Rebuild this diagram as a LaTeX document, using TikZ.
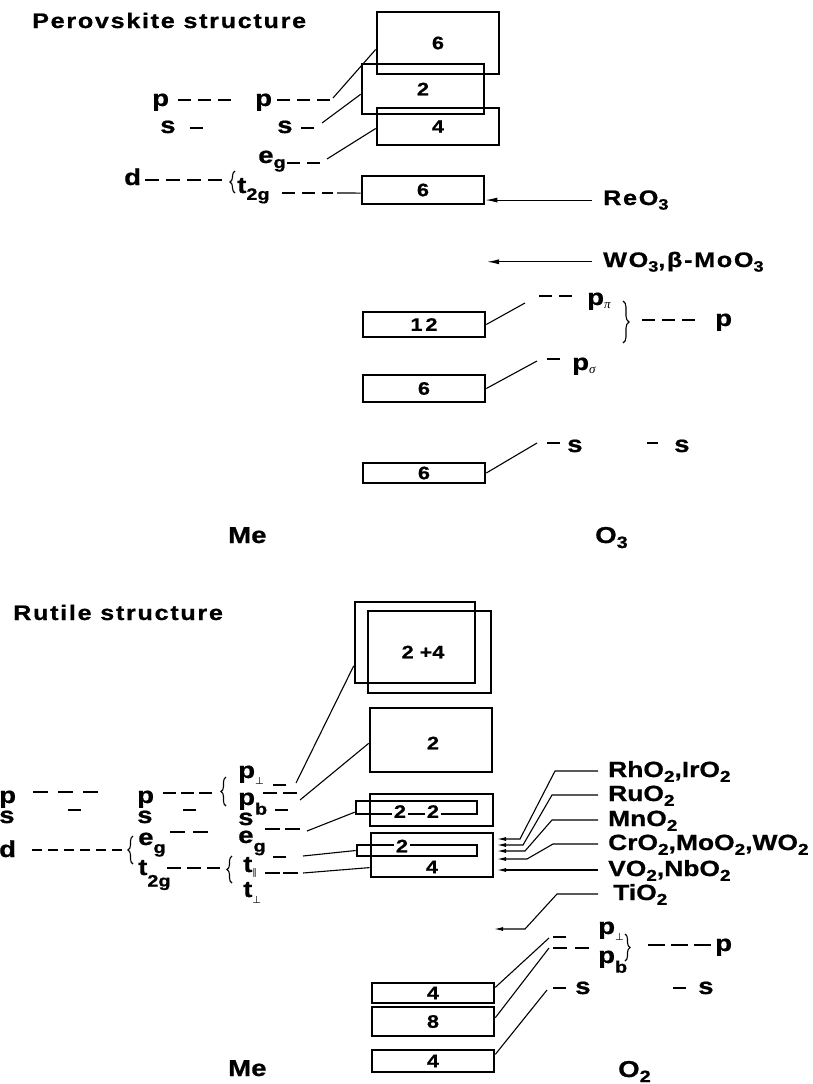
\documentclass[tikz,border=0pt]{standalone}
\usepackage{fontspec}
\usepackage{graphicx}
\setmainfont{Liberation Sans}[FakeStretch=1.2, BoldFeatures={FakeBold=0.8}]
\newfontfamily\grk{Liberation Serif}
\newfontfamily\dvs{DejaVu Sans}
\usetikzlibrary{arrows.meta,calc,decorations.pathreplacing}
\newcommand\dn[2][0.22em]{\raisebox{-#1}{\scalebox{0.72}{#2}}}
\newcommand\fs[1]{\fontsize{#1}{#1}\selectfont\bfseries}
\newcommand\perpsub{\raisebox{-6pt}{\fontsize{10}{10}\selectfont\dvs\mdseries ⊥}}
\newcommand\parsub{\raisebox{-3pt}{\fontsize{9}{9}\selectfont\dvs\mdseries ∥}}
\newcommand\grsub[1]{\raisebox{-3pt}{\fontsize{13}{13}\selectfont\grk\mdseries\itshape #1}}
\tikzset{
  txt/.style={anchor=base west, inner sep=0pt, font=\fs{23}},
  ttl/.style={anchor=base west, inner sep=0pt, font=\fs{21}\addfontfeatures{LetterSpace=8}},
  cmpd/.style={anchor=west, inner xsep=10pt, inner ysep=0pt, text height=16pt, text depth=4pt, font=\fs{22}},
  box/.style={draw, line width=2.6pt, minimum width=122pt, inner sep=0pt, font=\fs{18}},
  inbox/.style={draw, line width=2.6pt, inner sep=0pt},
  num/.style={inner xsep=2pt, inner ysep=0pt, font=\fs{18}},
  ln/.style={line width=1.1pt},
  dsh/.style={line width=2.6pt, dash pattern=on 13pt off 7pt},
  brc/.style={decorate, decoration={brace, amplitude=#1}, line width=1.1pt},
  arr/.style={ln, -{Latex[length=12pt,width=5pt]}},
  sarr/.style={ln, -{Latex[length=9pt,width=4pt]}},
}
\begin{document}
\begin{tikzpicture}[x=1pt,y=-1pt]
\useasboundingbox (0,0) rectangle (813,1084);

% ---------------- Perovskite ----------------
\node[ttl] (t1) at (32,28) {Perovskite structure};
\node[box, minimum height=62pt] (P6a) at (438,43) {6};
\node[box, minimum height=50pt] (P2) at (423,89) {2};
\node[box, minimum height=37pt] (P4) at (438,126.5) {4};
\node[box, minimum height=28pt] (P6b) at (423,190) {6};

\node[txt] (lp1) at (152,106) {p};
\node[txt] (lp2) at (255,106) {p};
\node[txt] (ls1) at (160,133) {s};
\node[txt] (ls2) at (277,133) {s};
\node[txt] (leg) at (258,163) {e\dn{g}};
\node[txt] (ld) at (124,185) {d};
\node[txt] (lt) at (237,193) {t\dn[0.3em]{2g}};

\draw[dsh] (178,100) -- (236,100);
\draw[dsh] (277,100) -- (332,100);
\draw[dsh] (190,128) -- (205,128);
\draw[dsh] (301,128) -- (315,128);
\draw[dsh] (287,163) -- (323,163);
\draw[dsh, dash pattern=on 14pt off 7pt] (145,180) -- (222,180);
\draw[dsh] (282,193) -- (333,193);
\draw[brc=5pt] (235,193) -- (235,171);

\coordinate (c1) at (333,98);
\coordinate (c2) at (322,123);
\coordinate (c3) at (327,159);
\coordinate (c4) at (337,193);
\draw[ln] (c1) -- ($(P6a.north west)!0.6!(P6a.south west)$);
\draw[ln] (c2) -- ($(P2.north west)!0.6!(P2.south west)$);
\draw[ln] (c3) -- ($(P4.north west)!0.55!(P4.south west)$);
\draw[ln] (c4) -- ($(P6b.north west)!0.6!(P6b.south west)$);

\node[ttl] (re) at (603,205) {ReO\dn{3}};
\node[ttl] (wo) at (603,267) {WO\dn{3},β-MoO\dn{3}};
\coordinate (wotip) at (487,260);
\draw[arr] ([xshift=-11pt]re.west) -- (re.west -| P6b.east);
\draw[arr] ([xshift=-11pt]wo.west) -- (wo.west -| wotip);

\node[box, minimum height=25pt] (O12) at (424,324.5) {1\,2};
\node[box, minimum height=27pt] (O6a) at (424,388.5) {6};
\node[box, minimum height=20pt] (O6b) at (424,473) {6};
\coordinate (c5) at (525,303);
\coordinate (c6) at (537,361);
\coordinate (c7) at (537,443);
\draw[ln] (O12.east) -- (c5);
\draw[ln] (O6a.east) -- (c6);
\draw[ln] (O6b.east) -- (c7);

\draw[dsh] (539,296) -- (577,296);
\node[txt] (ppi) at (587,305) {p\grsub{π}};
\draw[brc=6pt] (623,301) -- (623,343);
\draw[dsh] (642,320) -- (698,320);
\node[txt] (pO) at (715,326) {p};
\draw[dsh] (547,359) -- (560,359);
\node[txt] (psig) at (572,370) {p\grsub{σ}};
\draw[dsh] (547,443) -- (560,443);
\node[txt] (sO1) at (567,452) {s};
\draw[dsh] (647,443) -- (658,443);
\node[txt] (sO2) at (674,452) {s};

\node[txt] (me1) at (228,543) {Me};
\node[txt] (o3) at (595,543) {O\dn{3}};

% ---------------- Rutile ----------------
\node[ttl] (t2) at (13,620) {Rutile structure};
\node[box, minimum width=120pt, minimum height=81pt] (Rb) at (415,642.5) {};
\node[box, minimum width=123pt, minimum height=82pt] (Rf) at (429.5,652) {};
\node[num] (n24) at (423,652) {2 +4};
\node[box, minimum height=64pt] (R2) at (431,740) {};
\node[num] (n2) at (433,743) {2};
\node[box, minimum width=123pt, minimum height=32pt] (R22) at (431.5,810) {};
\node[inbox, minimum width=121pt, minimum height=13pt] (R22i) at (416.5,807.5) {};
\node[num, fill=white] (n2a) at (400,811.5) {2};
\node[num, fill=white] (n2b) at (433,811.5) {2};
\node[box, minimum height=44pt] (R4) at (432,855) {};
\node[inbox, minimum width=120pt, minimum height=11pt] (R4i) at (417,850.5) {};
\node[num, fill=white] (n2c) at (402,846) {2};
\node[num] (n4) at (432,867) {4};

% left labels
\node[txt] (rp1) at (-1,803) {p};
\node[txt] (rs1) at (-1,823) {s};
\node[txt] (rd) at (-1,857) {d};
\node[txt] (rp2) at (137,803) {p};
\node[txt] (rs2) at (137,823) {s};
\node[txt] (reg1) at (138,845) {e\dn[0.35em]{g}};
\node[txt] (rt2g) at (138,875) {t\dn[0.5em]{2g}};
\node[txt] (rpp) at (238,778) {p\perpsub};
\node[txt] (rpb) at (238,805) {p\dn[0.42em]{b}};
\node[txt] (rs3) at (238,825) {s};
\node[txt] (reg2) at (238,843) {e\dn[0.38em]{g}};
\node[txt] (rtpar) at (243,872) {t\parsub};
\node[txt] (rtperp) at (243,897) {t\perpsub};

\draw[dsh, dash pattern=on 15pt off 10pt] (33,792) -- (98,792);
\draw[dsh, dash pattern=on 13pt off 5pt] (163,793) -- (213,793);
\draw[brc=5pt] (226,806) -- (226,777);
\draw[dsh] (273,785) -- (290,785);
\draw[dsh, dash pattern=on 14pt off 6pt] (263,793) -- (297,793);
\draw[dsh] (68,810) -- (83,810);
\draw[dsh] (183,810) -- (200,810);
\draw[dsh] (275,810) -- (289,810);
\draw[dsh, dash pattern=on 15pt off 8pt] (170,832) -- (208,832);
\draw[dsh, dash pattern=on 15pt off 5pt] (265,829) -- (300,829);
\draw[dsh, dash pattern=on 10pt off 6pt] (32,850) -- (123,850);
\draw[brc=5pt] (133,864) -- (133,836);
\draw[dsh] (273,857) -- (288,857);
\draw[dsh, dash pattern=on 14pt off 6pt] (167,868) -- (220,868);
\draw[brc=5pt] (232,883) -- (232,856);
\draw[dsh, dash pattern=on 15pt off 3pt] (265,873) -- (298,873);

\coordinate (e1) at (296,783);
\coordinate (e2) at (300,800);
\coordinate (e3) at (307,831);
\coordinate (e4) at (303,856);
\coordinate (e5) at (303,873);
\draw[ln] (e1) -- ($(Rb.north west)!0.78!(Rb.south west)$);
\draw[ln] (e2) -- ($(R2.north west)!0.55!(R2.south west)$);
\draw[ln] (e3) -- ($(R22i.north west)!0.8!(R22i.south west)$);
\draw[ln] (e4) -- (R4i.west);
\draw[ln] (e5) -- ($(R4.north west)!0.77!(R4.south west)$);

% compounds
\node[cmpd] (Rh) at (598,771) {RhO\dn{2},IrO\dn{2}};
\node[cmpd] (Ru) at (598,795) {RuO\dn{2}};
\node[cmpd] (Mn) at (598,820) {MnO\dn{2}};
\node[cmpd] (Cr) at (598,844) {CrO\dn{2},MoO\dn{2},WO\dn{2}};
\node[cmpd] (VO) at (598,870) {VO\dn{2},NbO\dn{2}};
\node[cmpd, inner xsep=15pt] (Ti) at (598,894) {TiO\dn{2}};
\coordinate (a1) at (497,839);
\coordinate (a2) at (497,845);
\coordinate (a3) at (497,851);
\coordinate (a4) at (497,859);
\coordinate (a5) at (497,870);
\coordinate (a6) at (494,929);
\draw[sarr] (Rh.west) -- ++(-43,0) -- (520,839) -- (a1);
\draw[sarr] (Ru.west) -- ++(-46,0) -- (523,845) -- (a2);
\draw[sarr] (Mn.west) -- ++(-46,0) -- (525,851) -- (a3);
\draw[sarr] (Cr.west) -- ++(-45,0) -- (527,859) -- (a4);
\draw[sarr] (VO.west) -- (a5);
\draw[sarr] (Ti.west) -- ++(-41,0) -- (525,929) -- (a6);

% O2 side
\node[box, minimum height=20pt] (Q4a) at (433,993) {4};
\node[box, minimum height=29pt] (Q8) at (433,1021.5) {8};
\node[box, minimum height=22pt] (Q4b) at (433,1061) {4};
\coordinate (d1) at (549,938);
\coordinate (d2) at (549,948);
\coordinate (d3) at (547,990);
\draw[ln] ($(Q4a.north east)!0.25!(Q4a.south east)$) -- (d1);
\draw[ln] ($(Q8.north east)!0.38!(Q8.south east)$) -- (d2);
\draw[ln] ($(Q4b.north east)!0.23!(Q4b.south east)$) -- (d3);
\draw[dsh] (553,937) -- (567,937);
\draw[dsh, dash pattern=on 14pt off 8pt] (553,948) -- (589,948);
\node[txt] (qpp) at (598,934) {p\perpsub};
\node[txt] (qpb) at (598,963) {p\dn[0.42em]{b}};
\draw[brc=5pt] (625,934) -- (625,961);
\draw[dsh, dash pattern=on 17pt off 6pt] (648,945) -- (711,945);
\node[txt] (qp) at (715,951) {p};
\draw[dsh] (553,988) -- (567,988);
\node[txt] (qs1) at (575,994) {s};
\draw[dsh] (673,988) -- (687,988);
\node[txt] (qs2) at (698,994) {s};

\node[txt] (me2) at (228,1076) {Me};
\node[txt] (o2) at (618,1077) {O\dn{2}};
\end{tikzpicture}
\end{document}
